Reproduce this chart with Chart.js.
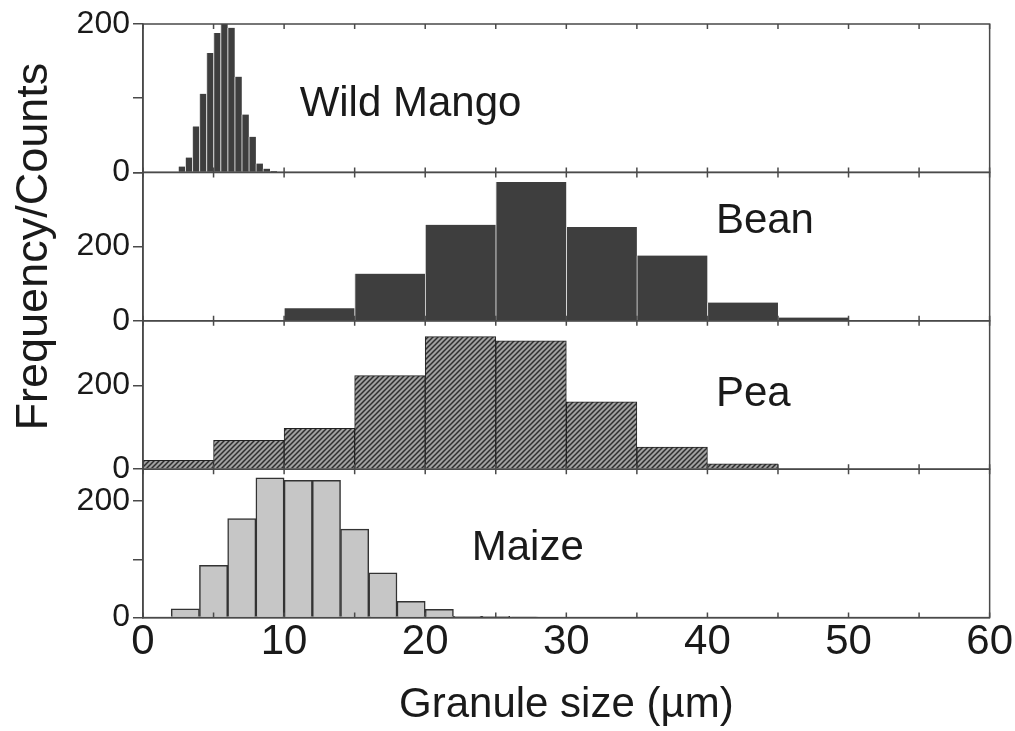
<!DOCTYPE html>
<html>
<head>
<meta charset="utf-8">
<script src="https://cdn.jsdelivr.net/npm/chart.js@4.4.1/dist/chart.umd.min.js"></script>
<style>
  html, body { margin: 0; padding: 0; background: #fff; }
  #wrap { width: 1015px; height: 731px; }
</style>
</head>
<body>
<div id="wrap"><canvas id="chart"></canvas></div>
<script>
// bin centres (µm) and counts
const mangoSize  = [2.75, 3.25, 3.75, 4.25, 4.75, 5.25, 5.75, 6.25, 6.75, 7.25, 7.75, 8.25, 8.75, 9.25, 9.75];
const mangoCount = [8, 20, 62, 106, 161, 188, 200, 195, 129, 78, 48, 12, 5, 2, 1];

const beanSize  = [12.5, 17.5, 22.5, 27.5, 32.5, 37.5, 42.5, 47.5];
const beanCount = [34, 127, 259, 374, 253, 176, 49, 9];

const peaSize  = [2.5, 7.5, 12.5, 17.5, 22.5, 27.5, 32.5, 37.5, 42.5];
const peaCount = [21, 69, 98, 224, 317, 307, 161, 53, 13];

const maizeSize  = [3, 5, 7, 9, 11, 13, 15, 17, 19, 21, 23, 25, 27];
const maizeCount = [15, 90, 170, 240, 236, 236, 152, 77, 28, 14, 2, 2, 1];

const panelNames = ['Wild Mango', 'Bean', 'Pea', 'Maize'];
const yLabelTicks = [0, 200];
const xLabelTicks = [0, 10, 20, 30, 40, 50, 60];

const FONT = "'Liberation Sans', Arial, sans-serif";
const INK = '#1a1a1a';
const LINE = '#4a4a4a';

function hatchPattern() {
    const c = document.createElement('canvas');
    c.width = 5; c.height = 5;
    const g = c.getContext('2d');
    g.fillStyle = '#a0a0a0';
    g.fillRect(0, 0, 5, 5);
    g.strokeStyle = '#2e2e2e';
    g.lineWidth = 1.5;
    g.beginPath();
    g.moveTo(0, 5); g.lineTo(5, 0);
    g.moveTo(-1, 1); g.lineTo(1, -1);
    g.moveTo(4, 6); g.lineTo(6, 4);
    g.stroke();
    return g.createPattern(c, 'repeat');
}

function points(xs, ys) {
    return xs.map((x, i) => ({ x: x, y: ys[i] }));
}

function hiddenX() {
    return { type: 'linear', display: false, min: 0, max: 60, offset: false, ticks: { stepSize: 5 } };
}

function yAxis(max, title) {
    return {
        type: 'linear',
        position: 'left',
        stack: 'panels',
        stackWeight: 1,
        min: 0,
        max: max,
        border: { color: LINE, width: 1.5 },
        grid: { drawOnChartArea: false, tickLength: 10, color: LINE, lineWidth: 1.5 },
        ticks: {
            stepSize: 100,
            includeBounds: false,
            padding: 3,
            color: INK,
            font: { family: FONT, size: 32 },
            callback: v => yLabelTicks.includes(v) ? String(v) : ''
        },
        // axis width is capped by the layout, so the title is pulled left with a negative pad
        title: title
            ? { display: true, text: title, color: INK, font: { family: FONT, size: 45 }, padding: { top: -14, bottom: 30 } }
            : { display: false }
    };
}

// frame around every panel plus small inward x ticks on each panel edge
const panelFrames = {
    id: 'panelFrames',
    afterDatasetsDraw(chart) {
        const ctx = chart.ctx;
        const area = chart.chartArea;
        const xs = chart.scales.x;
        ctx.save();
        ctx.strokeStyle = LINE;
        ctx.lineWidth = 1.5;
        ['yMango', 'yBean', 'yPea', 'yMaize'].forEach(id => {
            const s = chart.scales[id];
            ctx.strokeRect(area.left, s.top, area.right - area.left, s.bottom - s.top);
            ctx.beginPath();
            xs.ticks.forEach(t => {
                const px = xs.getPixelForValue(t.value);
                ctx.moveTo(px, s.top); ctx.lineTo(px, s.top + 5);
                ctx.moveTo(px, s.bottom); ctx.lineTo(px, s.bottom - 5);
            });
            ctx.stroke();
        });
        ctx.restore();
    }
};

// the species name written inside each panel
const panelLabels = {
    id: 'panelLabels',
    afterDatasetsDraw(chart, args, opts) {
        const ctx = chart.ctx;
        ctx.save();
        ctx.fillStyle = INK;
        ctx.font = '42px ' + FONT;
        ctx.textAlign = 'left';
        ctx.textBaseline = 'middle';
        opts.items.forEach(it => {
            const x = chart.scales.x.getPixelForValue(it.x);
            const y = chart.scales[it.axis].getPixelForValue(it.y);
            ctx.fillText(it.text, x, y);
        });
        ctx.restore();
    }
};

const barBase = { barPercentage: 1, categoryPercentage: 1, grouped: false };

new Chart(document.getElementById('chart'), {
    type: 'bar',
    data: {
        datasets: [
            Object.assign({
                label: panelNames[3], data: points(maizeSize, maizeCount),
                xAxisID: 'x', yAxisID: 'yMaize',
                backgroundColor: '#c6c6c6', borderColor: '#333', borderWidth: 1.5
            }, barBase),
            Object.assign({
                label: panelNames[2], data: points(peaSize, peaCount),
                xAxisID: 'xPea', yAxisID: 'yPea',
                backgroundColor: hatchPattern(), borderColor: '#222', borderWidth: 1
            }, barBase),
            Object.assign({
                label: panelNames[1], data: points(beanSize, beanCount),
                xAxisID: 'xBean', yAxisID: 'yBean',
                backgroundColor: '#3e3e3e', borderColor: '#d8d8d8',
                borderWidth: { left: 1, right: 0, top: 0, bottom: 0 }
            }, barBase),
            Object.assign({
                label: panelNames[0], data: points(mangoSize, mangoCount),
                xAxisID: 'xMango', yAxisID: 'yMango',
                backgroundColor: '#3e3e3e', borderColor: '#d8d8d8',
                borderWidth: { left: 1, right: 0, top: 0, bottom: 0 }
            }, barBase)
        ]
    },
    options: {
        responsive: true,
        maintainAspectRatio: false,
        animation: false,
        layout: { padding: { top: 24, right: 25, left: 22, bottom: 2 } },
        plugins: {
            legend: { display: false },
            tooltip: { enabled: false },
            panelLabels: {
                items: [
                    { text: panelNames[0], axis: 'yMango', x: 11.1, y: 92 },
                    { text: panelNames[1], axis: 'yBean', x: 40.6, y: 267 },
                    { text: panelNames[2], axis: 'yPea', x: 40.6, y: 180 },
                    { text: panelNames[3], axis: 'yMaize', x: 23.3, y: 119 }
                ]
            }
        },
        scales: {
            x: {
                type: 'linear',
                position: 'bottom',
                min: 0, max: 60,
                offset: false,
                border: { color: LINE, width: 1.5 },
                grid: { drawOnChartArea: false, drawTicks: false },
                ticks: {
                    stepSize: 5,
                    autoSkip: false,
                    maxRotation: 0,
                    padding: 2,
                    color: INK,
                    font: { family: FONT, size: 42, lineHeight: 1.1 },
                    callback: v => xLabelTicks.includes(v) ? String(v) : ''
                },
                title: {
                    display: true, text: 'Granule size (µm)', color: INK,
                    font: { family: FONT, size: 42, lineHeight: 1.1 },
                    padding: { top: 15, bottom: 0 }
                }
            },
            xPea: hiddenX(),
            xBean: hiddenX(),
            xMango: hiddenX(),
            yMaize: yAxis(255),
            yPea: yAxis(355),
            yBean: yAxis(400, 'Frequency/Counts'),
            yMango: yAxis(200)
        }
    },
    plugins: [panelFrames, panelLabels]
});
</script>
</body>
</html>
